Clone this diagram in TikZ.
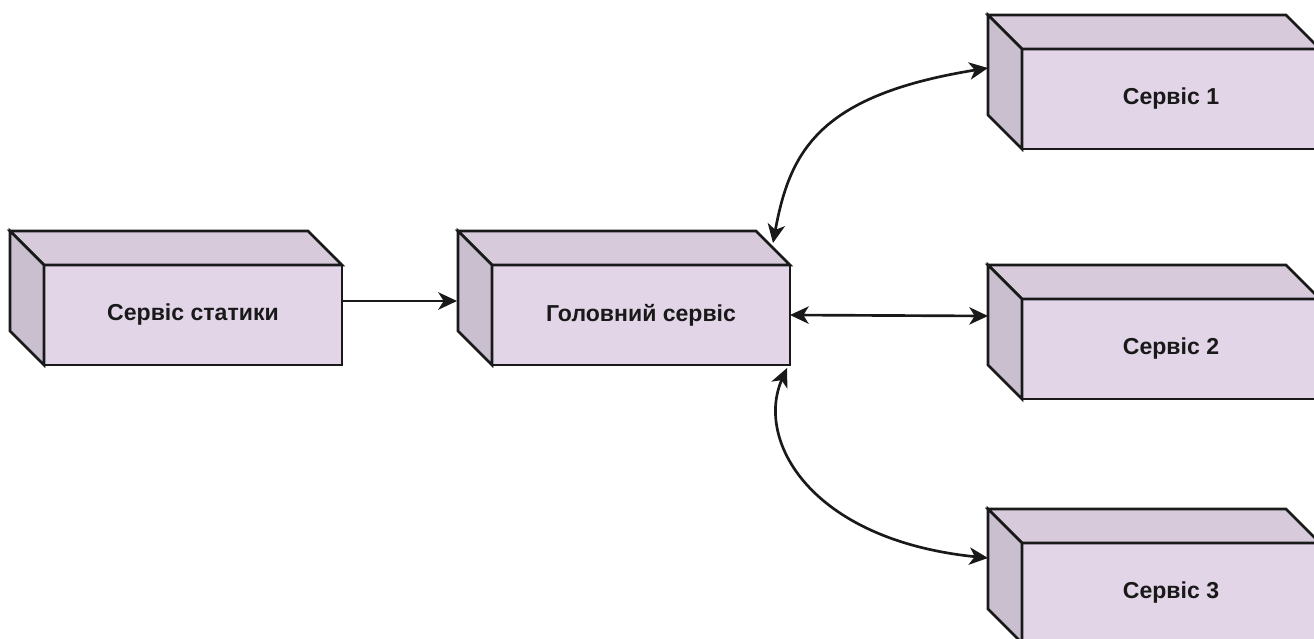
\documentclass[tikz,border=0pt]{standalone}
\usepackage{fontspec}
\setmainfont{Liberation Sans}
\usetikzlibrary{arrows.meta,calc}

\definecolor{frontfill}{HTML}{E1D5E7}
\definecolor{topfill}{HTML}{D6CADB}
\definecolor{sidefill}{HTML}{CABFCF}

% depth of the receding faces, in picture units
\newcommand\cubedepth{34}
% top and left faces of a cube whose front face is the node #1
\newcommand\cubefaces[1]{%
  \filldraw[cubeedge, fill=topfill] (#1.north west) -- ++(-\cubedepth,-\cubedepth)
    -- ($(#1.north east)+(-\cubedepth,-\cubedepth)$) -- (#1.north east) -- cycle;
  \filldraw[cubeedge, fill=sidefill] (#1.north west) -- ++(-\cubedepth,-\cubedepth)
    -- ($(#1.south west)+(-\cubedepth,-\cubedepth)$) -- (#1.south west) -- cycle;}

\tikzset{
  cubeedge/.style={draw=black!90, line width=2pt},
  cubefront/.style={cubeedge, fill=frontfill, minimum width=223.5pt,
    minimum height=75pt, inner sep=0pt, outer sep=0pt,
    text=black!90, font=\bfseries\fontsize{17.3}{20}\selectfont},
  tip/.tip={Stealth[length=14pt,width=13pt,inset=4pt]},
  link/.style={draw=black!90, line width=2pt, -tip},
  dlink/.style={draw=black!90, line width=2pt, tip-tip},
}

\begin{document}
\begin{tikzpicture}[x=0.75pt, y=-0.75pt]
  \useasboundingbox (0,0) rectangle (1314,639);
  \clip (0,0) rectangle (1314,639);

  % services
  \node[cubefront] (static) at (193,315) {Сервіс статики};
  \cubefaces{static}
  \node[cubefront] (main) at (641,315) {Головний сервіс};
  \cubefaces{main}
  \node[cubefront] (s1) at (1171,99) {Сервіс 1};
  \cubefaces{s1}
  \node[cubefront] (s2) at (1171,349) {Сервіс 2};
  \cubefaces{s2}
  \node[cubefront] (s3) at (1171,593) {Сервіс 3};
  \cubefaces{s3}

  % connections
  \draw[link] ($(static.east)+(0,-14)$) -- ($(main.west)+(-35,-14)$);
  \draw[dlink] (main.east) -- ($(s2.west)+(-34,-33)$);
  \draw[dlink] ($(main.north east)+(-17,-22)$)
    .. controls +(17,-93) and +(-168,27) .. ($(s1.west)+(-34,-31)$);
  \draw[dlink] ($(main.south east)+(-3,3)$)
    .. controls +(-32,72) and +(-178,-18) .. ($(s3.west)+(-34,-35)$);
\end{tikzpicture}
\end{document}
